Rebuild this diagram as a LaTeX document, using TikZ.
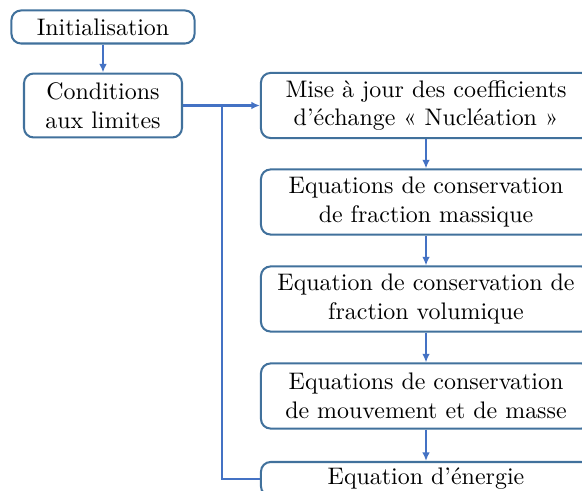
\documentclass[tikz,border=0pt]{standalone}
\usepackage{fontspec}
\usepackage{tikz}
\usetikzlibrary{arrows.meta}
\definecolor{boxblue}{HTML}{41719C}
\definecolor{flowblue}{HTML}{4472C4}

\begin{document}
\begin{tikzpicture}[
    x=0.4178pt, y=-0.4178pt,
    every node/.style={font=\normalsize, align=center, inner sep=0pt},
    etape/.style={draw=boxblue, line width=0.85pt, rounded corners=4pt,
                  fill=white},
    fleche/.style={-{Latex[length=3.6pt,width=3.2pt]}, draw=flowblue,
                   line width=0.85pt},
    liaison/.style={draw=flowblue, line width=0.85pt},
]
\useasboundingbox (0,0) rectangle (582,491);

% --- Left column: initialisation and boundary conditions ---
\node[etape, minimum width=76.5pt, minimum height=13.8pt]
     (init) at (103,27) {Initialisation};
\node[etape, minimum width=66pt, minimum height=26.7pt]
     (cl) at (103,105.5) {Conditions\\aux limites};

% --- Right column: the solver loop (cut off at the page edge) ---
\node[etape, minimum width=137.9pt, minimum height=27.2pt]
     (nucl) at (426,105.5) {Mise à jour des coefficients\\d’échange « Nucléation »};
\node[etape, minimum width=137.9pt, minimum height=27.2pt]
     (massique) at (426,202) {Equations de conservation\\de fraction massique};
\node[etape, minimum width=137.9pt, minimum height=27.2pt]
     (volumique) at (426,299) {Equation de conservation de\\fraction volumique};
\node[etape, minimum width=137.9pt, minimum height=27.2pt]
     (mouvement) at (426,396) {Equations de conservation\\de mouvement et de masse};
\node[etape, minimum width=137.9pt, minimum height=14.2pt]
     (energie) at (426,479) {Equation d’énergie};

% --- Connectors ---
\coordinate (jonction) at (222,105.5);
\draw[fleche] (init) -- (cl);
\draw[fleche] (cl.east) -- (nucl.west);
\draw[liaison] (jonction) |- (energie.west);
\draw[fleche] (nucl) -- (massique);
\draw[fleche] (massique) -- (volumique);
\draw[fleche] (volumique) -- (mouvement);
\draw[fleche] (mouvement) -- (energie);

\end{tikzpicture}
\end{document}
